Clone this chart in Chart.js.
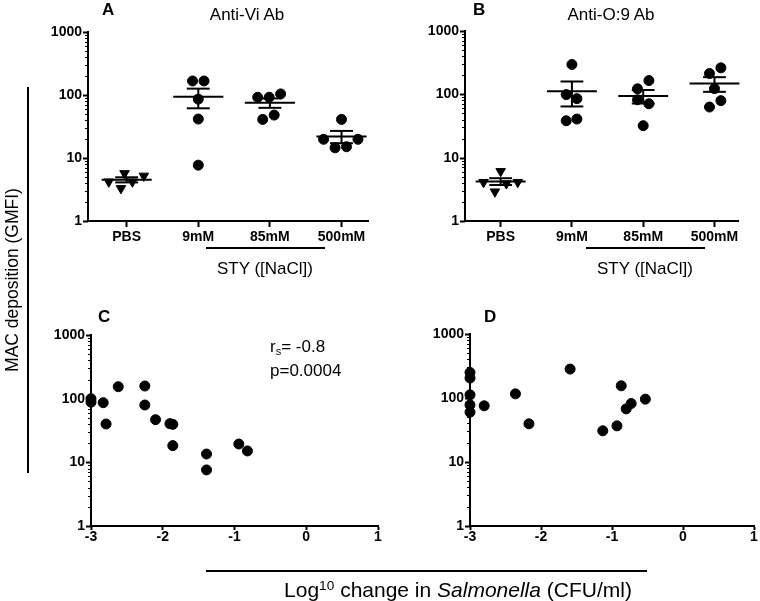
<!DOCTYPE html>
<html>
<head>
<meta charset="utf-8">
<script src="https://cdn.jsdelivr.net/npm/chart.js@4.4.1/dist/chart.umd.min.js"></script>
<style>
    body { margin: 0; background: #fff; }
    #fig { position: relative; width: 760px; height: 601px; overflow: hidden; font-family: "Liberation Sans", Arial, sans-serif; color: #000; }
    #fig canvas { position: absolute; left: 0; top: 0; }
    .t { position: absolute; white-space: nowrap; line-height: 1; font-size: 17px; }
    .c { transform: translateX(-50%); }
    .b { font-weight: bold; }
    .rule { position: absolute; background: #000; }
    sub { font-size: 0.65em; vertical-align: -0.25em; line-height: 0; }
    sup { font-size: 0.65em; vertical-align: 0.55em; line-height: 0; }
</style>
</head>
<body>
<div id="fig">
    <canvas id="chartA" width="760" height="601"></canvas>
    <canvas id="chartB" width="760" height="601"></canvas>
    <canvas id="chartC" width="760" height="601"></canvas>
    <canvas id="chartD" width="760" height="601"></canvas>

    <div class="t b" style="left:102px; top:1px;">A</div>
    <div class="t c" style="left:247px; top:6px;">Anti-Vi Ab</div>
    <div class="t b" style="left:473px; top:1px;">B</div>
    <div class="t c" style="left:611px; top:6px;">Anti-O:9 Ab</div>

    <div class="rule" style="left:206px; top:247px; width:119px; height:2px;"></div>
    <div class="t c" style="left:265px; top:260px;">STY ([NaCl])</div>
    <div class="rule" style="left:586px; top:247px; width:119px; height:2px;"></div>
    <div class="t c" style="left:645px; top:260px;">STY ([NaCl])</div>

    <div class="t b" style="left:98px; top:308px;">C</div>
    <div class="t b" style="left:484px; top:308px;">D</div>
    <div class="t" style="left:270px; top:338px;">r<sub>s</sub>= -0.8</div>
    <div class="t" style="left:270px; top:362px;">p=0.0004</div>

    <div class="rule" style="left:27px; top:87px; width:2px; height:386px;"></div>
    <div class="t" style="left:13px; top:280px; font-size:17.5px; transform:translate(-50%,-50%) rotate(-90deg);">MAC deposition (GMFI)</div>

    <div class="rule" style="left:206px; top:570px; width:441px; height:2px;"></div>
    <div class="t c" style="left:458px; top:579px; font-size:21px;">Log<sup>10</sup> change in <i>Salmonella</i> (CFU/ml)</div>
</div>

<script>
// groups on the x axis of panels A and B
const groups = ["PBS", "9mM", "85mM", "500mM"];

// A: anti-Vi Ab, MAC deposition (GMFI) per group
const viValues = [
    [4.2, 5.7, 3.3, 4.2, 5.2],
    [167, 167, 86, 41.5, 7.7],
    [92, 92, 104, 41, 48],
    [41, 19.8, 14.5, 15.1, 19.8]
];
const viSpread = [
    [-0.25, -0.03, -0.08, 0.08, 0.24],
    [-0.08, 0.08, 0, 0, 0],
    [-0.17, -0.01, 0.15, -0.1, 0.06],
    [0, -0.25, -0.09, 0.07, 0.23]
];

// B: anti-O:9 Ab
const o9Values = [
    [4.1, 6.1, 2.9, 3.9, 4.1],
    [296, 99, 85.5, 38.3, 40.7],
    [122, 165, 82, 71, 32],
    [213, 262, 123, 63, 79.5]
];
const o9Spread = [
    [-0.24, 0, -0.08, 0.08, 0.24],
    [0, -0.08, 0.07, -0.08, 0.07],
    [-0.08, 0.08, -0.08, 0.08, 0],
    [-0.07, 0.09, 0, -0.07, 0.09]
];

// C: anti-Vi MAC deposition vs log10 change in Salmonella
const viKillX = [-3, -3, -2.83, -2.79, -2.62, -2.25, -2.25, -2.1, -1.9, -1.86, -1.86, -1.39, -1.39, -0.94, -0.82];
const viKillY = [100, 88, 86.5, 40, 154, 158, 79.5, 46.8, 40.5, 39.5, 18.3, 13.5, 7.6, 19.4, 15.1];

// D: anti-O:9 MAC deposition vs log10 change in Salmonella
const o9KillX = [-3, -3, -3, -3, -3, -2.8, -2.36, -2.17, -1.59, -1.13, -0.93, -0.87, -0.8, -0.73, -0.53];
const o9KillY = [251, 205, 112, 78, 60, 75.5, 116, 39.5, 283, 30.7, 36.7, 155, 67.6, 82, 96];

const yTicks = [1, 10, 100, 1000];
const killTicks = [-3, -2, -1, 0, 1];

const FONT = "'Liberation Sans', Arial, sans-serif";
const W = 760, H = 601, Y_W = 60, X_H = 40;

function isDecade(v) {
    return yTicks.includes(Number(v));
}

// outside ticks on the log axis: long at decades, short at 2..9
const logTickPlugin = {
    id: "logTicks",
    afterDraw(chart) {
        const ys = chart.scales.y;
        const left = chart.chartArea.left;
        const ctx = chart.ctx;
        const mark = (v, len, lw) => {
            const py = Math.round(ys.getPixelForValue(v)) + 0.5;
            ctx.lineWidth = lw;
            ctx.beginPath();
            ctx.moveTo(left - len, py);
            ctx.lineTo(left, py);
            ctx.stroke();
        };
        ctx.save();
        ctx.strokeStyle = "#000";
        yTicks.forEach((d, i) => {
            mark(d, 5, 2);
            if (i < yTicks.length - 1) {
                for (let k = 2; k <= 9; k++) mark(d * k, 3, 1);
            }
        });
        ctx.restore();
    }
};

// mean with SEM bars for the dot plots
const meanSemPlugin = {
    id: "meanSem",
    afterDatasetsDraw(chart, args, opts) {
        if (!opts.values) return;
        const xs = chart.scales.x, ys = chart.scales.y, ctx = chart.ctx;
        ctx.save();
        ctx.strokeStyle = "#000";
        ctx.lineWidth = 2;
        opts.values.forEach((vals, i) => {
            const n = vals.length;
            const mean = vals.reduce((a, b) => a + b, 0) / n;
            const sd = Math.sqrt(vals.reduce((a, b) => a + (b - mean) * (b - mean), 0) / (n - 1));
            const sem = sd / Math.sqrt(n);
            const lo = Math.max(mean - sem, 1), hi = mean + sem;
            const line = (x0, x1, y) => {
                ctx.beginPath();
                ctx.moveTo(xs.getPixelForValue(x0), ys.getPixelForValue(y));
                ctx.lineTo(xs.getPixelForValue(x1), ys.getPixelForValue(y));
                ctx.stroke();
            };
            line(i - 0.35, i + 0.35, mean);
            line(i - 0.16, i + 0.16, hi);
            line(i - 0.16, i + 0.16, lo);
            ctx.beginPath();
            ctx.moveTo(xs.getPixelForValue(i), ys.getPixelForValue(hi));
            ctx.lineTo(xs.getPixelForValue(i), ys.getPixelForValue(lo));
            ctx.stroke();
        });
        ctx.restore();
    }
};

function logAxis() {
    return {
        type: "logarithmic",
        min: 1,
        max: 1000,
        border: { display: true, color: "#000", width: 2 },
        grid: { display: false, drawTicks: false },
        ticks: {
            autoSkip: false,
            padding: 6,
            color: "#000",
            font: { family: FONT, size: 14, weight: "bold" },
            callback: v => isDecade(v) ? String(v) : ""
        },
        afterFit: s => { s.width = Y_W; }
    };
}

function bottomAxis(extra, tickLen, pad) {
    return Object.assign({
        type: "linear",
        border: { display: true, color: "#000", width: 2 },
        grid: {
            display: true,
            drawOnChartArea: false,
            drawTicks: true,
            tickLength: tickLen,
            tickWidth: 2,
            tickColor: "#000"
        },
        ticks: {
            autoSkip: false,
            maxRotation: 0,
            padding: pad,
            color: "#000",
            font: { family: FONT, size: 14, weight: "bold" }
        },
        afterFit: s => { s.height = X_H; }
    }, extra);
}

function dotPoints(values, spread, from, to) {
    const pts = [];
    for (let i = from; i <= to; i++) {
        values[i].forEach((v, j) => pts.push({ x: i + spread[i][j], y: v }));
    }
    return pts;
}

function makeChart(id, area, xAxis, datasets, meanValues) {
    return new Chart(document.getElementById(id), {
        type: "scatter",
        data: { datasets: datasets },
        options: {
            responsive: false,
            animation: false,
            devicePixelRatio: 1,
            layout: {
                padding: {
                    left: area.left - Y_W,
                    top: area.top,
                    right: W - area.right,
                    bottom: H - area.bottom - X_H
                }
            },
            plugins: {
                legend: { display: false },
                tooltip: { enabled: false },
                meanSem: { values: meanValues }
            },
            scales: { x: xAxis, y: logAxis() }
        },
        plugins: [logTickPlugin, meanSemPlugin]
    });
}

const dotStyle = {
    pointStyle: "circle",
    pointRadius: 5,
    backgroundColor: "#000",
    borderColor: "#000",
    borderWidth: 1,
    clip: false
};
const triStyle = {
    pointStyle: "triangle",
    rotation: 180,
    pointRadius: 5.5,
    backgroundColor: "#000",
    borderColor: "#000",
    borderWidth: 1,
    clip: false
};

function groupAxis(min, max) {
    const ax = bottomAxis({ min: min, max: max }, 6, 2);
    ax.afterBuildTicks = s => { s.ticks = groups.map((g, i) => ({ value: i })); };
    ax.ticks.callback = v => groups[v];
    return ax;
}

function killAxis() {
    const ax = bottomAxis({ min: -3, max: 1 }, 4, -1);
    ax.afterBuildTicks = s => { s.ticks = killTicks.map(v => ({ value: v })); };
    ax.ticks.callback = v => String(v);
    return ax;
}

makeChart("chartA", { left: 88, top: 32, right: 368, bottom: 221 },
    groupAxis(-0.54, 3.37),
    [
        Object.assign({ data: dotPoints(viValues, viSpread, 0, 0) }, triStyle),
        Object.assign({ data: dotPoints(viValues, viSpread, 1, 3) }, dotStyle)
    ],
    viValues);

makeChart("chartB", { left: 465, top: 31, right: 738, bottom: 221 },
    groupAxis(-0.5, 3.33),
    [
        Object.assign({ data: dotPoints(o9Values, o9Spread, 0, 0) }, triStyle),
        Object.assign({ data: dotPoints(o9Values, o9Spread, 1, 3) }, dotStyle)
    ],
    o9Values);

makeChart("chartC", { left: 91, top: 335, right: 378, bottom: 526 },
    killAxis(),
    [Object.assign({ data: viKillX.map((x, i) => ({ x: x, y: viKillY[i] })) }, dotStyle)],
    null);

makeChart("chartD", { left: 470, top: 334, right: 756, bottom: 526 },
    killAxis(),
    [Object.assign({ data: o9KillX.map((x, i) => ({ x: x, y: o9KillY[i] })) }, dotStyle)],
    null);
</script>
</body>
</html>
